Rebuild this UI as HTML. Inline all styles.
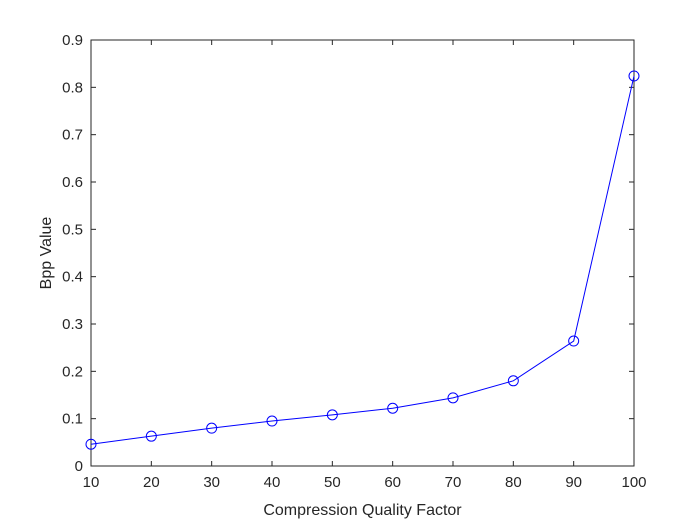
<!DOCTYPE html>
<html><head><meta charset="utf-8"><style>
body{margin:0;background:#fff;}
svg{display:block;font-family:"Liberation Sans",sans-serif;}
</style></head><body>
<svg id="chart" width="700" height="525"></svg>
<script>
const categories=[10,20,30,40,50,60,70,80,90,100];
const bppValues=[0.046,0.063,0.080,0.095,0.108,0.122,0.144,0.180,0.264,0.824];
const xTicks=[10,20,30,40,50,60,70,80,90,100];
const yTicks=[0,0.1,0.2,0.3,0.4,0.5,0.6,0.7,0.8,0.9];
const NS="http://www.w3.org/2000/svg";
const svg=document.getElementById('chart');
const L=91,R=634,T=40,B=466;
const sx=v=>L+(v-10)/90*(R-L);
const sy=v=>B-v/0.9*(B-T);
function mk(t,a,p){const e=document.createElementNS(NS,t);for(const k in a)e.setAttribute(k,a[k]);(p||svg).appendChild(e);return e;}
const box=mk('rect',{x:L,y:T,width:R-L,height:B-T,fill:'#fff',stroke:'#262626','stroke-width':1});


xTicks.forEach(v=>{const x=sx(v);
mk('line',{x1:x,x2:x,y1:B,y2:B-5,stroke:'#262626'});mk('line',{x1:x,x2:x,y1:T,y2:T+5,stroke:'#262626'});
const t=mk('text',{x:x,y:B+21,'text-anchor':'middle','font-size':15,fill:'#262626'});t.textContent=v;

});
yTicks.forEach(v=>{const y=sy(v);
mk('line',{x1:L,x2:L+5,y1:y,y2:y,stroke:'#262626'});mk('line',{x1:R,x2:R-5,y1:y,y2:y,stroke:'#262626'});
const t=mk('text',{x:L-8,y:y+5,'text-anchor':'end','font-size':15,fill:'#262626'});t.textContent=String(v);

});
const line=mk('polyline',{points:categories.map((c,i)=>sx(c)+','+sy(bppValues[i])).join(' '),fill:'none',stroke:'#0000ff','stroke-width':1});


categories.forEach((c,i)=>{const m=mk('circle',{cx:sx(c),cy:sy(bppValues[i]),r:5,fill:'none',stroke:'#0000ff','stroke-width':1});

});
const xt=mk('text',{x:(L+R)/2,y:515,'text-anchor':'middle','font-size':16,fill:'#262626'});xt.textContent='Compression Quality Factor';


const yt=mk('text',{x:0,y:0,'text-anchor':'middle','font-size':16,fill:'#262626',transform:`translate(51,${(T+B)/2}) rotate(-90)`});yt.textContent='Bpp Value';


</script>
</body></html>
